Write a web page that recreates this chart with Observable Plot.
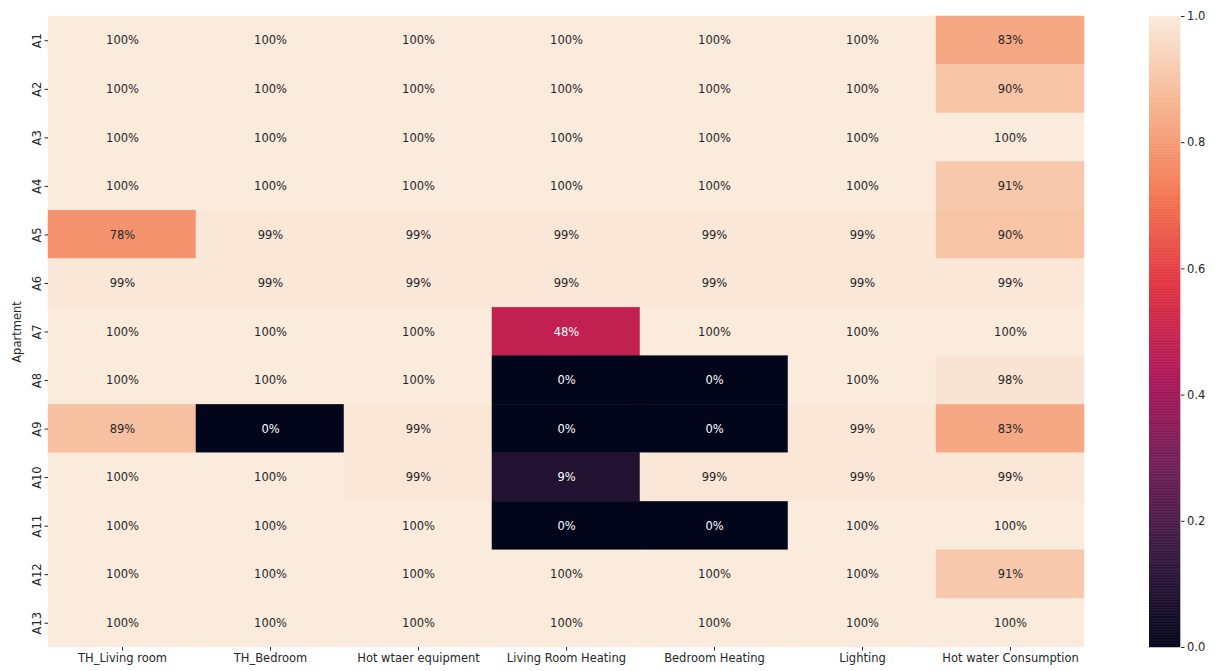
<!DOCTYPE html>
<html>
<head>
<meta charset="utf-8">
<script src="https://cdn.jsdelivr.net/npm/d3@7"></script>
<script src="https://cdn.jsdelivr.net/npm/@observablehq/plot@0.6"></script>
<style>
  html, body { margin: 0; padding: 0; background: #fff; }
  #wrap { position: relative; width: 1215px; height: 671px; font-family: "DejaVu Sans", sans-serif; }
  #main { position: absolute; left: 0; top: 0; }
  #cbar { position: absolute; left: 1149px; top: 0; }
</style>
</head>
<body>
<div id="wrap"><div id="main"></div><div id="cbar"></div></div>
<script>
const apartments = ["A1","A2","A3","A4","A5","A6","A7","A8","A9","A10","A11","A12","A13"];
const categories = ["TH_Living room","TH_Bedroom","Hot wtaer equipment","Living Room Heating","Bedroom Heating","Lighting","Hot water Consumption"];
// Values (%) per apartment, in category order
const A1  = [100,100,100,100,100,100,83];
const A2  = [100,100,100,100,100,100,90];
const A3  = [100,100,100,100,100,100,100];
const A4  = [100,100,100,100,100,100,91];
const A5  = [78,99,99,99,99,99,90];
const A6  = [99,99,99,99,99,99,99];
const A7  = [100,100,100,48,100,100,100];
const A8  = [100,100,100,0,0,100,98];
const A9  = [89,0,99,0,0,99,83];
const A10 = [100,100,99,9,99,99,99];
const A11 = [100,100,100,0,0,100,100];
const A12 = [100,100,100,100,100,100,91];
const A13 = [100,100,100,100,100,100,100];
const rows = [A1,A2,A3,A4,A5,A6,A7,A8,A9,A10,A11,A12,A13];
const cbTicks = [0, 0.2, 0.4, 0.6, 0.8, 1.0];

// seaborn "rocket" colormap approximation
const rocketStops = [
  [0.000, "#03051a"],
  [0.143, "#35193e"],
  [0.286, "#701f57"],
  [0.429, "#ad1759"],
  [0.571, "#e13342"],
  [0.714, "#f37651"],
  [0.857, "#f6b48f"],
  [1.000, "#faebdd"]
];
const rocketScale = d3.scaleLinear()
  .domain(rocketStops.map(d => d[0]))
  .range(rocketStops.map(d => d[1]))
  .interpolate(d3.interpolateRgb)
  .clamp(true);
const rocket = t => rocketScale(t);

function relLum(c) {
  const col = d3.rgb(c);
  const f = v => { v /= 255; return v <= 0.03928 ? v / 12.92 : Math.pow((v + 0.055) / 1.055, 2.4); };
  return 0.2126 * f(col.r) + 0.7152 * f(col.g) + 0.0722 * f(col.b);
}

const data = [];
apartments.forEach((a, i) => {
  categories.forEach((c, j) => {
    const v = rows[i][j] / 100;
    data.push({apt: a, cat: c, value: v, label: rows[i][j] + "%", text: relLum(rocket(v)) > 0.408 ? "#262626" : "#ffffff"});
  });
});

const font = "DejaVu Sans, sans-serif";
const fs = 11.5;

const main = Plot.plot({
  width: 1100,
  height: 671,
  marginLeft: 48,
  marginRight: 16,
  marginTop: 16,
  marginBottom: 24,
  style: {fontFamily: font, fontSize: fs + "px", color: "#262626", background: "transparent"},
  x: {domain: categories, padding: 0, round: false, axis: null},
  y: {domain: apartments, padding: 0, round: false, axis: null},
  color: {type: "linear", domain: [0, 1], interpolate: rocket},
  marks: [
    Plot.cell(data, {x: "cat", y: "apt", fill: "value", inset: 0, stroke: "value", strokeWidth: 0.5}),
    Plot.text(data, {x: "cat", y: "apt", text: "label", fill: d => d.text, fontSize: fs}),
    Plot.axisX({anchor: "bottom", tickSize: 3.5, tickPadding: 3, fontSize: fs, label: null, stroke: "#262626", fill: "#262626"}),
    Plot.axisY({anchor: "left", tickSize: 3.5, tickFormat: () => "", label: null, stroke: "#262626"}),
    Plot.text(apartments, {y: d => d, text: d => d, frameAnchor: "left", dx: -11, rotate: -90, textAnchor: "middle", lineAnchor: "middle", fontSize: fs, fill: "#262626"}),
    Plot.text(["Apartment"], {frameAnchor: "left", dx: -31, rotate: -90, textAnchor: "middle", lineAnchor: "middle", fontSize: fs, fill: "#262626"})
  ]
});
document.getElementById("main").appendChild(main);

const ramp = d3.range(0, 1, 0.0025).map(t => ({t0: t, t1: t + 0.0025}));
const cbar = Plot.plot({
  width: 66,
  height: 671,
  marginLeft: 0,
  marginRight: 35,
  marginTop: 16,
  marginBottom: 24,
  style: {fontFamily: font, fontSize: fs + "px", color: "#262626", background: "transparent"},
  x: {domain: [0, 1], axis: null},
  y: {domain: [0, 1], axis: null},
  color: {type: "linear", domain: [0, 1], interpolate: rocket},
  marks: [
    Plot.rect(ramp, {x1: 0, x2: 1, y1: "t0", y2: "t1", fill: "t0", stroke: "t0", strokeWidth: 0.5}),
    Plot.axisY(cbTicks, {anchor: "right", tickSize: 3.5, tickPadding: 3, tickFormat: d3.format(".1f"), label: null, fontSize: fs, stroke: "#262626", fill: "#262626"})
  ]
});
document.getElementById("cbar").appendChild(cbar);
</script>
</body>
</html>
